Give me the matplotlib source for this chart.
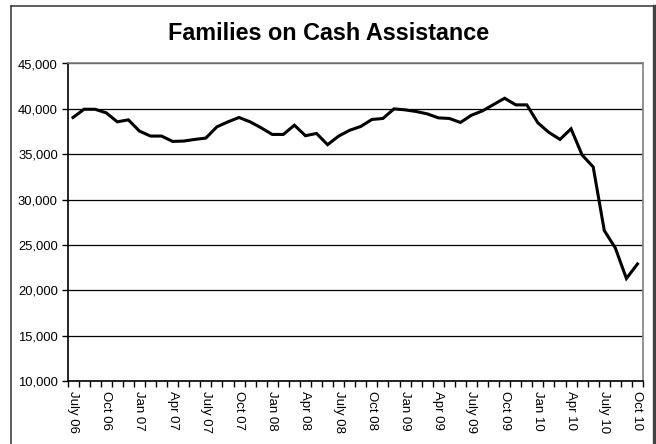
"""Families on Cash Assistance, monthly, July 2006 - October 2010."""

import matplotlib

matplotlib.use("Agg")
import matplotlib.pyplot as plt
from matplotlib.lines import Line2D
from matplotlib.ticker import FuncFormatter

# one value per month, July 06 .. Oct 10 (52 months)
families = [
    39050, 39960, 39950, 39560, 38570, 38790, 37550, 37000, 37000, 36410,
    36450, 36630, 36780, 38020, 38570, 39050, 38570, 37910, 37180, 37180,
    38200, 37040, 37290, 36050, 37000, 37640, 38060, 38830, 38940, 40000,
    39890, 39710, 39450, 39010, 38940, 38500, 39300, 39780, 40480, 41170,
    40440, 40440, 38460, 37400, 36630, 37800, 34910, 33600, 26590, 24660,
    21300, 22900,
]
tick_labels = [
    "July 06", "Oct 06", "Jan 07", "Apr 07", "July 07", "Oct 07",
    "Jan 08", "Apr 08", "July 08", "Oct 08", "Jan 09", "Apr 09",
    "July 09", "Oct 09", "Jan 10", "Apr 10", "July 10", "Oct 10",
]
y_ticks = [10000, 15000, 20000, 25000, 30000, 35000, 40000, 45000]

FONT = "Liberation Sans"


def main() -> None:
    fig = plt.figure(figsize=(6.56, 4.44), dpi=100)
    ax = fig.add_axes([67.5 / 656, 1 - 381 / 444, (643 - 67.5) / 656, (381 - 63.5) / 444])

    months = list(range(len(families)))
    ax.plot(months, families, color="black", lw=2.2, solid_joinstyle="miter", zorder=3)

    ax.set_xlim(-0.5, len(families) - 0.5)
    ax.set_ylim(y_ticks[0], y_ticks[-1])

    ax.set_yticks(y_ticks)
    ax.yaxis.set_major_formatter(FuncFormatter(lambda v, _: f"{int(v):,}"))
    ax.tick_params(axis="y", direction="out", length=4, width=1, pad=3,
                   labelsize=9.4, colors="black")
    for lbl in ax.get_yticklabels():
        lbl.set_fontfamily(FONT)
    ax.grid(axis="y", color="black", lw=0.9, zorder=1)

    ax.set_xticks(months[::3])
    ax.set_xticklabels(tick_labels, rotation=-90, fontsize=9.5, family=FONT,
                       va="top", ha="center")
    ax.set_xticks([m - 0.5 for m in range(len(families) + 1)], minor=True)
    ax.tick_params(axis="x", which="major", length=0, pad=7)
    ax.tick_params(axis="x", which="minor", direction="out", length=4, width=1)

    for side in ("top", "right"):
        ax.spines[side].set_color("#808080")
        ax.spines[side].set_linewidth(1.2)
    for side in ("left", "bottom"):
        ax.spines[side].set_color("black")
        ax.spines[side].set_linewidth(1.2)

    fig.text(329 / 656, 1 - 34 / 444, "Families on Cash Assistance", ha="center",
             va="center", fontsize=16.8, fontweight="bold", family=FONT)

    # chart area border (left/top thin, right heavier like a shadow)
    W, H = 656, 444
    fig.add_artist(Line2D([11 / W, 11 / W], [0, 1 - 6.5 / H], color="#333333", lw=1.1,
                          transform=fig.transFigure))
    fig.add_artist(Line2D([11 / W, 654 / W], [1 - 6.5 / H, 1 - 6.5 / H], color="#333333",
                          lw=1.1, transform=fig.transFigure))
    fig.add_artist(Line2D([654 / W, 654 / W], [0, 1 - 6.5 / H], color="#444444", lw=2.4,
                          transform=fig.transFigure))

    fig.savefig("out.png", dpi=100)
    plt.close(fig)


if __name__ == "__main__":
    main()
